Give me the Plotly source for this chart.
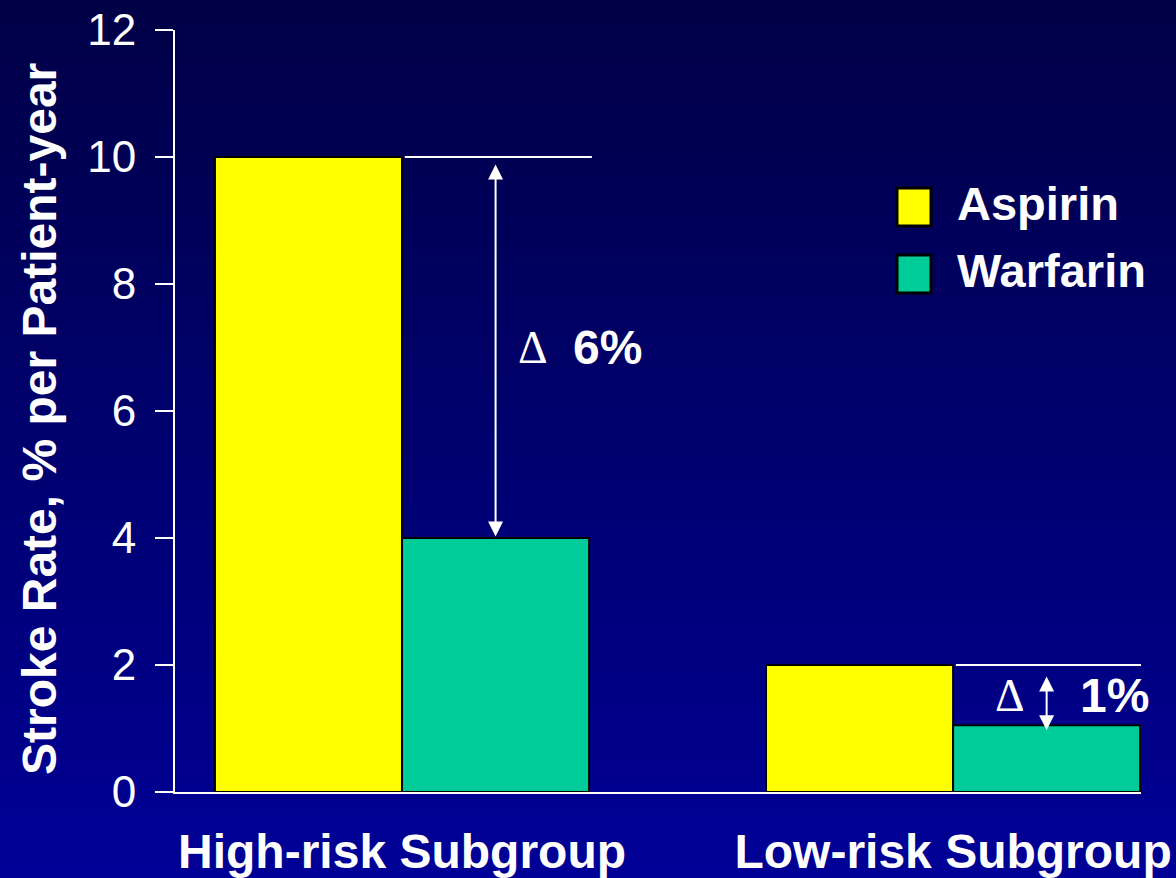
import plotly.graph_objects as go

# --- data ---------------------------------------------------------------
subgroups = ["High-risk Subgroup", "Low-risk Subgroup"]
aspirin = [10.0, 2.0]
warfarin = [4.0, 1.05]
y_ticks = [0, 2, 4, 6, 8, 10, 12]

# --- style --------------------------------------------------------------
YELLOW = "#FFFF00"
GREEN = "#00CC99"
WHITE = "#FFFFFF"
SANS = "Liberation Sans, Arial, sans-serif"
SERIF = "Liberation Serif, Times New Roman, serif"

W, H = 1176, 878
ML, MR, MT, MB = 175, 35, 30, 86
PW, PH = W - ML - MR, H - MT - MB

BARGAP = 0.321
BAR_W = (1 - BARGAP) / 2          # width of a single bar in category units


def px_x(x):
    return (x - ML) / PW


def px_y(y):
    return (H - MB - y) / PH


fig = go.Figure()
fig.add_trace(go.Bar(x=subgroups, y=aspirin, name="Aspirin",
                     marker=dict(color=YELLOW, line=dict(color="black", width=2))))
fig.add_trace(go.Bar(x=subgroups, y=warfarin, name="Warfarin",
                     marker=dict(color=GREEN, line=dict(color="black", width=2))))

shapes = []

# vertical background gradient, dark navy at the top to brighter blue below
top_rgb, bot_rgb = (0, 0, 70), (0, 0, 150)
n_strips = 90
for i in range(n_strips):
    t = i / (n_strips - 1)
    c = tuple(round(a + (b - a) * t) for a, b in zip(top_rgb, bot_rgb))
    y0 = H * i / n_strips - 1
    y1 = H * (i + 1) / n_strips + 1
    shapes.append(dict(type="rect", xref="paper", yref="paper", layer="below",
                       x0=px_x(-5), x1=px_x(W + 5), y0=px_y(y1), y1=px_y(y0),
                       fillcolor="rgb(%d,%d,%d)" % c, line=dict(width=0)))

annotations = []
for i in range(len(subgroups)):
    a, w = aspirin[i], warfarin[i]
    # reference line extending the aspirin level over the warfarin bar
    shapes.append(dict(type="line", xref="x", yref="y", layer="above",
                       x0=i + 0.005, x1=i + BAR_W + 0.005, y0=a, y1=a,
                       line=dict(color=WHITE, width=2)))
    xc = i + BAR_W / 2
    if i == 0:
        top, bot = a - 0.12, w
    else:
        top, bot = a - 0.18, w - 0.1
    annotations.append(dict(x=xc, y=top, ax=xc, ay=bot, xref="x", yref="y",
                            axref="x", ayref="y", text="", showarrow=True,
                            arrowside="end+start", arrowhead=2, arrowsize=1.5,
                            arrowwidth=2, arrowcolor=WHITE))
    diff = a - w
    label = "%d%%" % round(diff)
    mid = (a + w) / 2
    if i == 0:
        annotations.append(dict(x=xc, y=mid, xref="x", yref="y", text="Δ",
                                showarrow=False, xanchor="left", yanchor="middle",
                                xshift=20, font=dict(family=SERIF, size=46, color=WHITE)))
        annotations.append(dict(x=xc, y=mid, xref="x", yref="y", text="<b>%s</b>" % label,
                                showarrow=False, xanchor="left", yanchor="middle",
                                xshift=75, font=dict(family=SANS, size=48, color=WHITE)))
    else:
        annotations.append(dict(x=xc, y=mid, xref="x", yref="y", text="Δ",
                                showarrow=False, xanchor="right", yanchor="middle",
                                xshift=-20, font=dict(family=SERIF, size=46, color=WHITE)))
        annotations.append(dict(x=xc, y=mid, xref="x", yref="y", text="<b>%s</b>" % label,
                                showarrow=False, xanchor="left", yanchor="middle",
                                xshift=31, font=dict(family=SANS, size=48, color=WHITE)))

# legend drawn as boxed swatches with bold labels
legend_items = [("Aspirin", YELLOW, 188), ("Warfarin", GREEN, 255)]
for name, col, ytop in legend_items:
    shapes.append(dict(type="rect", xref="paper", yref="paper", layer="above",
                       x0=px_x(897), x1=px_x(931), y0=px_y(ytop + 38), y1=px_y(ytop),
                       fillcolor=col, line=dict(color="black", width=3)))
    annotations.append(dict(x=px_x(955), y=px_y(ytop + 15), xref="paper", yref="paper",
                            text="<b>%s</b>" % name, showarrow=False,
                            xanchor="left", yanchor="middle",
                            font=dict(family=SANS, size=47, color=WHITE)))

# y-axis title
annotations.append(dict(x=px_x(39), y=px_y(419), xref="paper", yref="paper",
                        text="<b>Stroke Rate, % per Patient-year</b>", textangle=-90,
                        showarrow=False, xanchor="center", yanchor="middle",
                        font=dict(family=SANS, size=48, color=WHITE)))

fig.update_layout(
    width=W, height=H,
    margin=dict(l=ML, r=MR, t=MT, b=MB, pad=0, autoexpand=False),
    paper_bgcolor="rgb(0,0,110)",
    plot_bgcolor="rgba(0,0,0,0)",
    barmode="group", bargap=BARGAP, bargroupgap=0,
    showlegend=False,
    shapes=shapes,
    annotations=annotations,
    xaxis=dict(type="category", range=[-0.412, 1.341], showline=True,
               linecolor=WHITE, linewidth=2, ticks="", showgrid=False,
               zeroline=False, ticklabelstandoff=16, automargin=False,
               tickfont=dict(family=SANS, size=48, color=WHITE),
               tickprefix="<b>", ticksuffix="</b>"),
    yaxis=dict(range=[0, 12], tickvals=y_ticks, showline=True, linecolor=WHITE,
               linewidth=2, ticks="outside", ticklen=18, tickwidth=2,
               tickcolor=WHITE, showgrid=False, zeroline=False,
               ticklabelstandoff=10, automargin=False,
               tickfont=dict(family=SANS, size=44, color=WHITE)),
)

fig.write_html("out.html")
